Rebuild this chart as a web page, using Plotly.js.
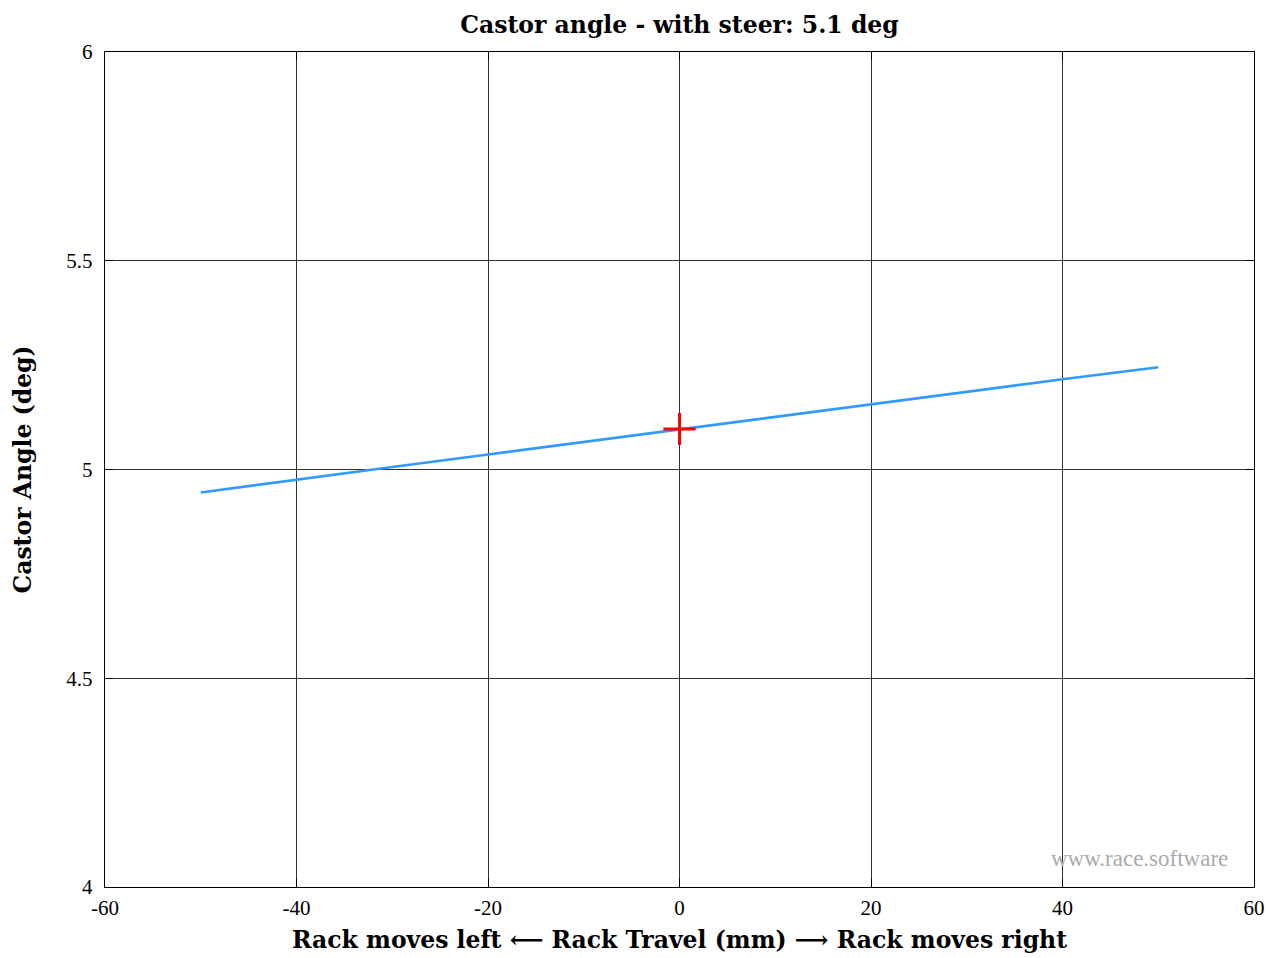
<!DOCTYPE html>
<html>
<head>
<meta charset="utf-8">
<script src="https://cdn.plot.ly/plotly-3.0.1.min.js"></script>
<style>html,body{margin:0;padding:0;background:#fff;}#chart{width:1269px;height:958px;}</style>
</head>
<body>
<div id="chart"></div>
<script>
const rackTravel = [-50, -40, -30, -20, -10, 0, 10, 20, 30, 40, 50];
const castorAngle = [4.945, 4.976, 5.006, 5.036, 5.066, 5.097, 5.127, 5.157, 5.186, 5.216, 5.245];
const markerX = [0];
const markerY = [5.097];
const xTicks = [-60, -40, -20, 0, 20, 40, 60];
const yTicks = [4, 4.5, 5, 5.5, 6];
const yTickText = ['4', '4.5', '5', '5.5', '6'];

const serif = '"Liberation Serif", "DejaVu Serif", serif';
const boldSerif = '"DejaVu Serif", "Liberation Serif", serif';

const traces = [
  {x: rackTravel, y: castorAngle, mode: 'lines', line: {color: '#3399ff', width: 2.6}, hoverinfo: 'skip', showlegend: false},
  {x: markerX, y: markerY, mode: 'markers', marker: {symbol: 'cross-thin', size: 23, line: {color: '#ff0000', width: 3}}, showlegend: false}
];

const layout = {
  width: 1269, height: 958,
  margin: {l: 105, r: 15, t: 52, b: 71},
  paper_bgcolor: '#fff', plot_bgcolor: '#fff',
  font: {family: serif, color: '#000', size: 21},
  title: {text: '<b>Castor angle - with steer: 5.1 deg</b>', x: 0.5355, xanchor: 'center', y: 0.974, yanchor: 'middle', font: {size: 23.5, family: boldSerif}},
  xaxis: {
    range: [-60, 60], tickvals: xTicks, ticktext: xTicks.map(String),
    showgrid: true, gridcolor: '#000', gridwidth: 0.8,
    zeroline: false, showline: true, linecolor: '#000', linewidth: 1.2, mirror: 'ticks',
    ticks: 'inside', ticklen: 8, tickcolor: '#000',
    ticklabelstandoff: 2,
    tickfont: {size: 21, family: serif},
    title: {text: '<b>Rack moves left ⟵ Rack Travel (mm) ⟶ Rack moves right</b>', font: {size: 23.5, family: boldSerif}, standoff: 12}
  },
  yaxis: {
    range: [4, 6], tickvals: yTicks, ticktext: yTickText,
    showgrid: true, gridcolor: '#000', gridwidth: 0.8,
    zeroline: false, showline: true, linecolor: '#000', linewidth: 1.2, mirror: 'ticks',
    ticks: 'inside', ticklen: 8, tickcolor: '#000',
    ticklabelstandoff: 7,
    tickfont: {size: 21, family: serif},
    title: {text: '<b>Castor Angle (deg)</b>', font: {size: 23.5, family: boldSerif}, standoff: 28}
  },
  annotations: [
    {text: 'www.race.software', xref: 'paper', yref: 'paper', x: 0.979, y: 0.034, xanchor: 'right', yanchor: 'middle', showarrow: false, font: {size: 23, color: '#aaaaaa', family: serif}}
  ]
};

Plotly.newPlot('chart', traces, layout, {displayModeBar: false, staticPlot: true});
</script>
</body>
</html>
